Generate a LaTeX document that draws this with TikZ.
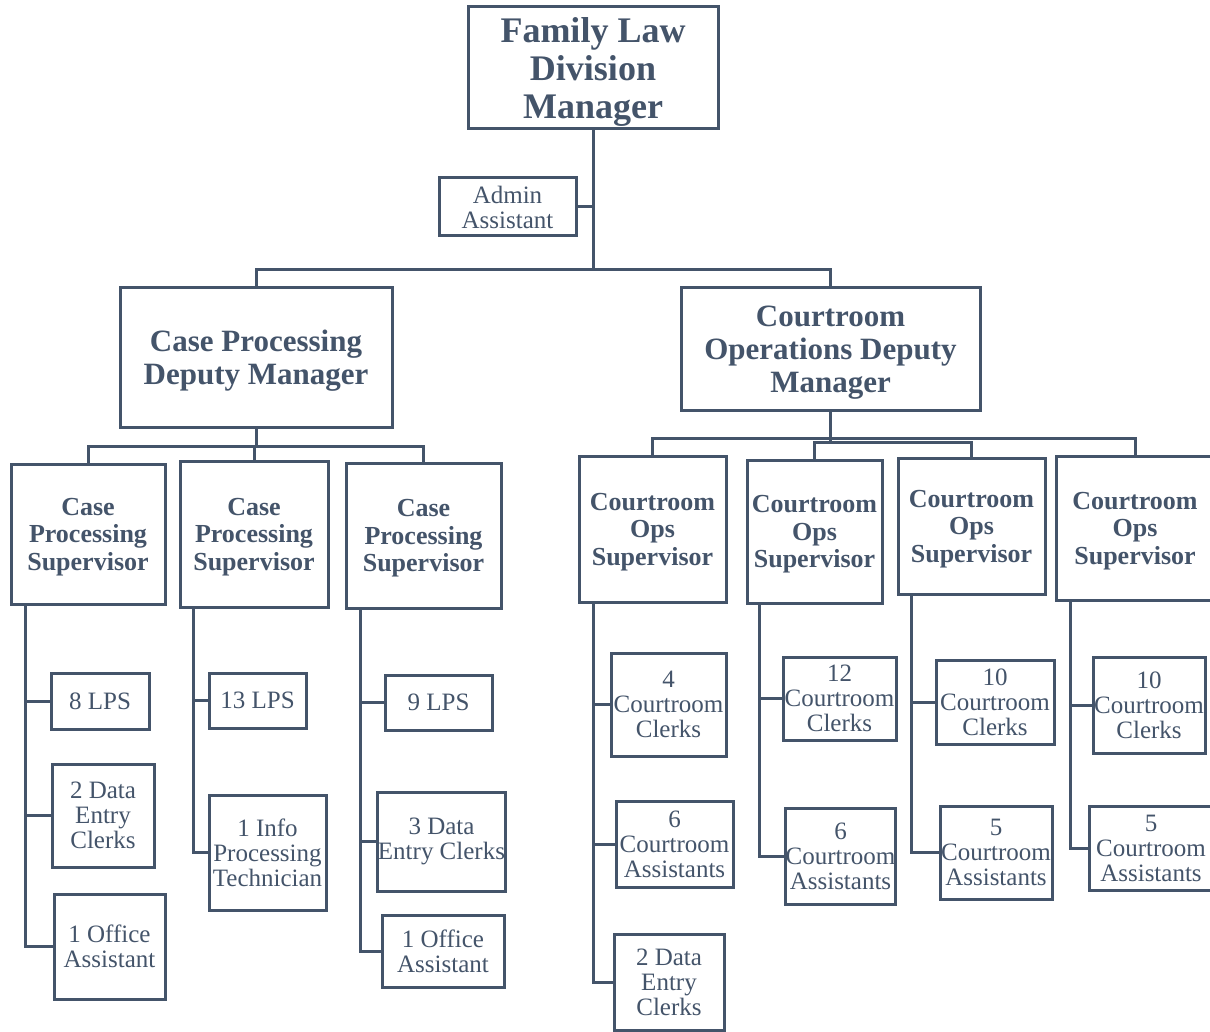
\documentclass[tikz,border=0pt]{standalone}
\usepackage{fontspec}
\setmainfont{Liberation Serif}
\definecolor{lawblue}{HTML}{44546A}
\newcommand{\topfont}{\fontsize{36}{38}\selectfont\bfseries}
\newcommand{\depfont}{\fontsize{31}{33}\selectfont\bfseries}
\newcommand{\supfont}{\fontsize{26}{27.5}\selectfont\bfseries}
\newcommand{\stafffont}{\fontsize{25}{25}\selectfont}
\tikzset{
  orgbox/.style={draw=lawblue, line width=3pt, fill=white, inner sep=0pt, align=center, text=lawblue},
  headbox/.style={orgbox, text depth=0pt},
  staff/.style={orgbox, font=\stafffont},
  orgline/.style={draw=lawblue, line width=3pt}
}
\begin{document}
\begin{tikzpicture}[x=1pt, y=-1pt]
        \useasboundingbox (0,0) rectangle (1210,1032);

        % managers
        \node [headbox, font=\topfont, minimum width=250, minimum height=122] (fldm) at (593,68) {Family Law\\Division\\Manager};
        \node [staff, minimum width=137, minimum height=58] (admin) at (507.5,207) {Admin\\Assistant};
        \node [headbox, font=\depfont, minimum width=272, minimum height=139] (cpdm) at (256,357.5) {Case Processing\\Deputy Manager};
        \node [headbox, font=\depfont, minimum width=299, minimum height=122] (codm) at (830.5,349) {Courtroom\\Operations Deputy\\Manager};

        % supervisors
        \node [headbox, font=\supfont, minimum width=154, minimum height=140] (cps1) at (88,534) {Case\\Processing\\Supervisor};
        \node [headbox, font=\supfont, minimum width=148, minimum height=146] (cps2) at (254,534) {Case\\Processing\\Supervisor};
        \node [headbox, font=\supfont, minimum width=155, minimum height=145] (cps3) at (423.5,535.5) {Case\\Processing\\Supervisor};
        \node [headbox, font=\supfont, minimum width=147, minimum height=146] (cos1) at (652.5,529) {Courtroom\\Ops\\Supervisor};
        \node [headbox, font=\supfont, minimum width=135, minimum height=143] (cos2) at (814.5,531.5) {Courtroom\\Ops\\Supervisor};
        \node [headbox, font=\supfont, minimum width=147, minimum height=136] (cos3) at (971.5,526) {Courtroom\\Ops\\Supervisor};
        \node [headbox, font=\supfont, minimum width=158, minimum height=144] (cos4) at (1135,528) {Courtroom\\Ops\\Supervisor};

        % staff under case processing
        \node [staff, minimum width=98, minimum height=56] (a1) at (100,701) {8 LPS};
        \node [staff, minimum width=102, minimum height=103] (a2) at (103,815.5) {2 Data\\Entry\\Clerks};
        \node [staff, minimum width=111, minimum height=105] (a3) at (109.5,946.5) {1 Office\\Assistant};
        \node [staff, minimum width=97, minimum height=55] (b1) at (257.5,700.5) {13 LPS};
        \node [staff, minimum width=117, minimum height=115] (b2) at (267.5,852.5) {1 Info\\Processing\\Technician};
        \node [staff, minimum width=107, minimum height=55] (c1) at (438.5,702.5) {9 LPS};
        \node [staff, minimum width=125, minimum height=99] (c2) at (441.5,841.5) {3 Data\\Entry Clerks};
        \node [staff, minimum width=122, minimum height=72] (c3) at (443,951) {1 Office\\Assistant};

        % staff under courtroom operations
        \node [staff, minimum width=115, minimum height=103] (d1) at (668.5,704.5) {4\\Courtroom\\Clerks};
        \node [staff, minimum width=117, minimum height=86] (d2) at (674.5,844) {6\\Courtroom\\Assistants};
        \node [staff, minimum width=110, minimum height=96] (d3) at (669,982) {2 Data\\Entry\\Clerks};
        \node [staff, minimum width=113, minimum height=83] (e1) at (839.5,698.5) {12\\Courtroom\\Clerks};
        \node [staff, minimum width=109, minimum height=96] (e2) at (840.5,856) {6\\Courtroom\\Assistants};
        \node [staff, minimum width=118, minimum height=84] (f1) at (995,702) {10\\Courtroom\\Clerks};
        \node [staff, minimum width=112, minimum height=93] (f2) at (996,852.5) {5\\Courtroom\\Assistants};
        \node [staff, minimum width=112, minimum height=96] (g1) at (1149,705) {10\\Courtroom\\Clerks};
        \node [staff, minimum width=124, minimum height=84] (g2) at (1151,848) {5\\Courtroom\\Assistants};

        \coordinate (j0) at (593,270);
        \coordinate (j1) at (256,446);
        \coordinate (j2) at (830.5,438);
        \coordinate (j3) at (830.5,442);

        \begin{scope}[orgline]
        \draw (fldm.south) -- (j0);
        \draw (fldm.south) |- (admin.east);
        \draw (cpdm.north) |- (j0) -| (codm.north);
        \draw (cpdm.south) -- (j1);
        \draw (cps1.north) |- (j1) -| (cps3.north);
        \draw (j1) -| (cps2.north);
        \draw (codm.south) -- (j3);
        \draw (cos1.north) |- (j2) -| (cos4.north);
        \draw (cos2.north) |- (j3) -| (cos3.north);

        \draw ([xshift=16]cps1.south west) |- (a1.west);
        \draw ([xshift=16]cps1.south west) |- (a2.west);
        \draw ([xshift=16]cps1.south west) |- (a3.west);
        \draw ([xshift=15]cps2.south west) |- (b1.west);
        \draw ([xshift=15]cps2.south west) |- (b2.west);
        \draw ([xshift=16]cps3.south west) |- (c1.west);
        \draw ([xshift=16]cps3.south west) |- (c2.west);
        \draw ([xshift=16]cps3.south west) |- (c3.west);
        \draw ([xshift=16]cos1.south west) |- (d1.west);
        \draw ([xshift=16]cos1.south west) |- (d2.west);
        \draw ([xshift=16]cos1.south west) |- (d3.west);
        \draw ([xshift=14]cos2.south west) |- (e1.west);
        \draw ([xshift=14]cos2.south west) |- (e2.west);
        \draw ([xshift=15]cos3.south west) |- (f1.west);
        \draw ([xshift=15]cos3.south west) |- (f2.west);
        \draw ([xshift=16]cos4.south west) |- (g1.west);
        \draw ([xshift=16]cos4.south west) |- (g2.west);
        \end{scope}

\end{tikzpicture}
\end{document}
